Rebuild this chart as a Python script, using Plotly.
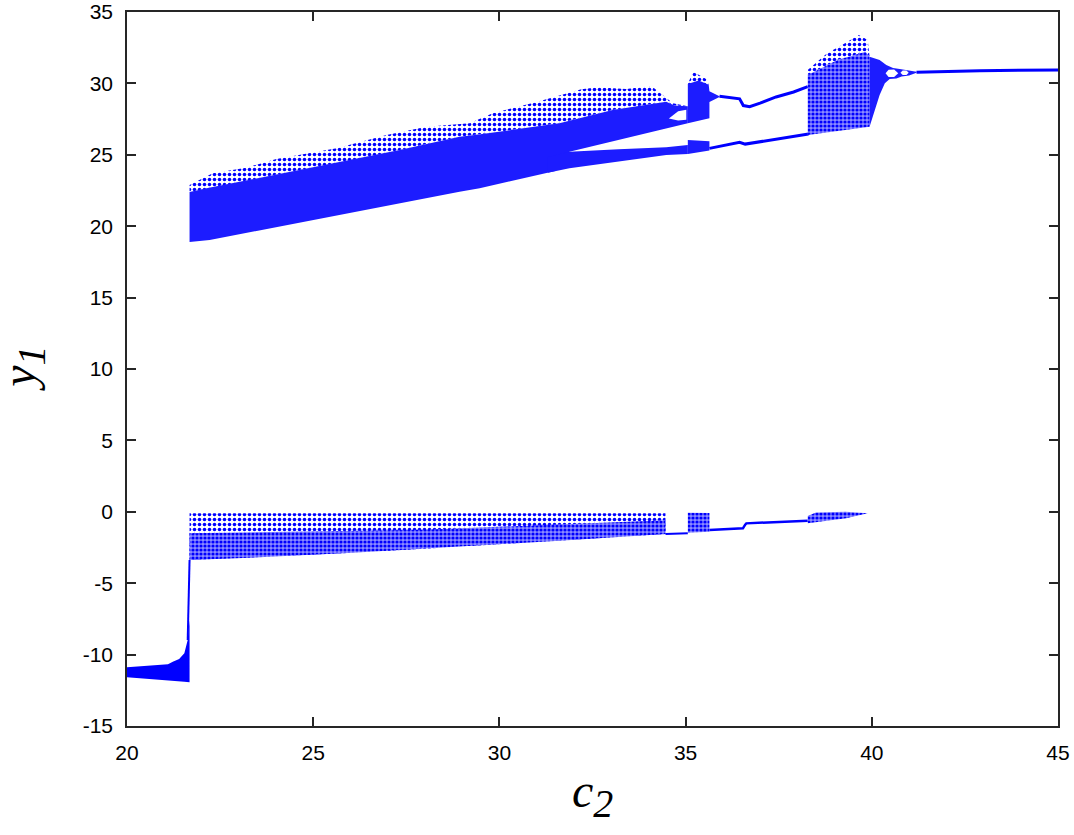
import plotly.graph_objects as go

# ---------------- data (c2 , y1) ----------------
# Upper attractor: main chaotic band
up_sparse_c = [21.68, 22.30, 23.20, 24.01, 25.63, 26.97, 28.04, 29.20, 29.82, 31.00, 32.20, 32.64, 33.40, 34.08, 34.66, 35.06]
up_sparse_y = [22.89, 23.70, 24.10, 24.71, 25.46, 26.39, 26.97, 27.21, 27.91, 28.70, 29.59, 29.73, 29.60, 29.82, 28.61, 28.40]
up_dense_c = [21.68, 22.20, 23.40, 24.63, 26.00, 27.32, 28.93, 29.39, 30.50, 31.61, 33.04, 34.48, 34.70, 35.06]
up_dense_y = [22.39, 22.70, 23.30, 23.94, 24.60, 25.34, 26.27, 26.40, 26.80, 27.21, 28.14, 28.72, 28.45, 28.40]
up_bottom_c = [21.68, 22.22, 24.00, 25.71, 27.30, 28.93, 29.47, 30.50, 31.50, 31.88, 33.50, 35.06]
up_bottom_y = [18.89, 19.03, 19.90, 20.78, 21.60, 22.42, 22.65, 23.25, 23.87, 25.22, 26.25, 27.21]
# small gap inside the upper sub-band near c2 = 35
gap_c = [34.55, 34.80, 35.02, 35.02, 34.80]
gap_y = [27.55, 28.05, 28.15, 27.45, 27.40]
# lower sub-band after the split
sub_c = [31.30, 31.88, 33.20, 34.48, 35.06]
sub_top = [24.85, 25.22, 25.38, 25.52, 25.69]
sub_bot = [23.75, 24.05, 24.55, 24.99, 25.06]
# chaotic window near c2 = 35.3
win_up_c_top = [35.06, 35.35, 35.62, 35.64, 35.91]
win_up_y_top = [29.95, 30.20, 29.90, 29.45, 29.10]
win_up_c_bot = [35.06, 35.64, 35.64, 35.91]
win_up_y_bot = [27.21, 27.56, 28.70, 29.05]
win_sparse_c = [35.06, 35.20, 35.35, 35.55, 35.62]
win_sparse_y = [29.95, 30.80, 30.60, 30.30, 29.90]
win_lo_c = [35.06, 35.64]
win_lo_top = [26.04, 25.95]
win_lo_bot = [25.06, 25.30]
# period-2 branches
p2_up_c = [35.91, 36.45, 36.55, 36.72, 37.00, 37.43, 37.90, 38.28]
p2_up_y = [29.10, 28.92, 28.45, 28.37, 28.62, 29.05, 29.40, 29.77]
p2_lo_c = [35.64, 36.45, 36.60, 36.72, 37.52, 38.30]
p2_lo_y = [25.45, 25.88, 25.75, 25.80, 26.16, 26.45]
# chaotic region 38.3 - 39.9
ch2_sparse_c = [38.28, 38.80, 39.20, 39.65, 39.89, 39.94]
ch2_sparse_y = [30.94, 32.11, 32.69, 33.39, 33.04, 31.87]
ch2_dense_c = [38.28, 39.08, 39.83, 39.94]
ch2_dense_y = [30.59, 31.64, 32.22, 31.87]
ch2_bot_c = [38.28, 39.94]
ch2_bot_y = [26.39, 26.97]
# converging band 39.9 - 41.2
conv_top_c = [39.94, 40.21, 40.39, 40.57, 40.75, 41.20]
conv_top_y = [31.87, 31.64, 31.29, 31.08, 31.00, 30.82]
conv_bot_c = [39.94, 40.03, 40.12, 40.21, 40.35, 40.48, 40.66, 40.80, 41.00, 41.20]
conv_bot_y = [26.97, 27.67, 28.49, 29.19, 30.01, 30.30, 30.35, 30.48, 30.55, 30.75]
bub1_c = [40.37, 40.45, 40.60, 40.71, 40.60, 40.45]
bub1_y = [30.71, 30.95, 30.97, 30.71, 30.45, 30.45]
bub2_c = [40.77, 40.83, 40.93, 40.99, 40.93, 40.83]
bub2_y = [30.74, 30.90, 30.90, 30.74, 30.58, 30.58]
fixed_c = [41.20, 42.90, 45.00]
fixed_y = [30.78, 30.89, 30.94]

# Lower attractor
left_c_top = [20.00, 20.69, 21.10, 21.23, 21.40, 21.54, 21.63, 21.68]
left_y_top = [-10.89, -10.78, -10.68, -10.50, -10.30, -9.91, -8.98, -7.60]
left_c_bot = [20.00, 20.69, 21.23, 21.54, 21.68]
left_y_bot = [-11.59, -11.71, -11.83, -11.90, -11.94]
jump_c = [21.63, 21.65, 21.67, 21.68]
jump_y = [-8.98, -7.00, -5.48, -3.38]
lo_top_c = [21.68, 34.46]
lo_top_y = [-0.10, -0.10]
lo_core_c = [21.68, 28.00, 34.46]
lo_core_y = [-1.50, -1.25, -0.60]
lo_bot_c = [21.68, 22.93, 26.06, 28.93, 31.61, 34.46]
lo_bot_y = [-3.38, -3.26, -2.86, -2.44, -2.02, -1.55]
lo_line1_c = [34.46, 35.06]
lo_line1_y = [-1.55, -1.51]
lo_win_c = [35.06, 35.64]
lo_win_top = [-0.06, -0.08]
lo_win_bot = [-1.46, -1.40]
lo_line2_c = [35.64, 36.54, 36.60, 36.63, 38.28]
lo_line2_y = [-1.27, -1.16, -0.90, -0.81, -0.62]
lo_wedge_c_top = [38.28, 38.50, 39.30, 39.89]
lo_wedge_y_top = [-0.30, -0.05, 0.00, -0.08]
lo_wedge_c_bot = [38.28, 39.31, 39.89]
lo_wedge_y_bot = [-0.80, -0.46, -0.10]

x_ticks = [20, 25, 30, 35, 40, 45]
y_ticks = [-15, -10, -5, 0, 5, 10, 15, 20, 25, 30, 35]

BLUE = "#0000ff"
CORE = "#1c1cff"
MID = "#4848ff"
HALO = "#b4b4ff"

fig = go.Figure()


def poly(ct, yt, cb, yb, color, pattern=None):
    xs = list(ct) + list(cb)[::-1]
    ys = list(yt) + list(yb)[::-1]
    xs.append(xs[0])
    ys.append(ys[0])
    kw = {}
    if pattern:
        kw["fillpattern"] = pattern
    fig.add_trace(go.Scatter(x=xs, y=ys, mode="lines", fill="toself",
                             fillcolor=color, line=dict(width=0, color=color),
                             hoverinfo="skip", showlegend=False, **kw))


def closed(cx, cy, color):
    fig.add_trace(go.Scatter(x=list(cx) + [cx[0]], y=list(cy) + [cy[0]], mode="lines",
                             fill="toself", fillcolor=color, line=dict(width=0, color=color),
                             hoverinfo="skip", showlegend=False))


def line(cx, cy, w):
    fig.add_trace(go.Scatter(x=cx, y=cy, mode="lines", line=dict(color=BLUE, width=w),
                             hoverinfo="skip", showlegend=False))


dots = dict(shape=".", fgcolor=BLUE, bgcolor="white", size=5, solidity=0.4, fillmode="replace")
dots_dense = dict(shape=".", fgcolor=BLUE, bgcolor="#8c8cff", size=4, solidity=0.5, fillmode="replace")

# upper attractor
poly(up_sparse_c, up_sparse_y, up_dense_c, up_dense_y, HALO, dots)
poly(up_dense_c, up_dense_y, up_bottom_c, up_bottom_y, CORE)
poly(sub_c, sub_top, sub_c, sub_bot, CORE)
closed(gap_c, gap_y, "white")
poly(win_sparse_c, win_sparse_y, win_sparse_c[:1] + win_sparse_c[-1:], win_sparse_y[:1] + win_sparse_y[-1:], HALO, dots)
poly(win_up_c_top, win_up_y_top, win_up_c_bot, win_up_y_bot, CORE)
poly(win_lo_c, win_lo_top, win_lo_c, win_lo_bot, CORE)
line(p2_up_c, p2_up_y, 3)
line(p2_lo_c, p2_lo_y, 3)
poly(ch2_sparse_c, ch2_sparse_y, ch2_dense_c, ch2_dense_y, HALO, dots)
poly(ch2_dense_c, ch2_dense_y, ch2_bot_c, ch2_bot_y, MID, dots_dense)
poly(conv_top_c, conv_top_y, conv_bot_c, conv_bot_y, CORE)
closed(bub1_c, bub1_y, "white")
closed(bub2_c, bub2_y, "white")
line(fixed_c, fixed_y, 3)

# lower attractor
poly(left_c_top, left_y_top, left_c_bot, left_y_bot, BLUE)
line(jump_c, jump_y, 2)
poly(lo_top_c, lo_top_y, lo_bot_c, lo_bot_y, HALO, dots)
poly(lo_core_c, lo_core_y, lo_bot_c, lo_bot_y, MID, dots_dense)
line(lo_line1_c, lo_line1_y, 2)
poly(lo_win_c, lo_win_top, lo_win_c, lo_win_bot, MID, dots_dense)
line(lo_line2_c, lo_line2_y, 2.5)
poly(lo_wedge_c_top, lo_wedge_y_top, lo_wedge_c_bot, lo_wedge_y_bot, MID, dots_dense)

AX = "#262626"
TICKFONT = dict(family="Liberation Sans", size=21, color="black")
fig.update_xaxes(range=[20, 45], tickvals=x_ticks, ticktext=[str(v) for v in x_ticks],
                 showline=True, mirror="ticks", linecolor=AX, linewidth=1.5,
                 ticks="inside", ticklen=9, tickwidth=1.5, tickcolor=AX,
                 showgrid=False, zeroline=False, ticklabelstandoff=7,
                 ticklabeloverflow="allow", automargin=False, tickfont=TICKFONT)
fig.update_yaxes(range=[-15, 35], tickvals=y_ticks, ticktext=[str(v) for v in y_ticks],
                 showline=True, mirror="ticks", linecolor=AX, linewidth=1.5,
                 ticks="inside", ticklen=9, tickwidth=1.5, tickcolor=AX,
                 showgrid=False, zeroline=False, ticklabelstandoff=8,
                 ticklabeloverflow="allow", automargin=False, tickfont=TICKFONT)

fig.update_layout(
    width=1074, height=835,
    margin=dict(l=127, r=16, t=12, b=109, autoexpand=False),
    font=dict(family="Liberation Sans", size=21, color="black"),
    plot_bgcolor="white", paper_bgcolor="white",
    annotations=[
        dict(text="<i>c</i><sub><span style='font-size:40px'><i>2</i></span></sub>",
             xref="paper", yref="paper",
             x=0.50, y=-0.05, xanchor="center", yanchor="top", showarrow=False,
             font=dict(family="Liberation Serif", size=48, color="black")),
        dict(text="<i>y</i><sub><span style='font-size:40px'><i>1</i></span></sub>",
             xref="paper", yref="paper",
             x=-0.112, y=0.50, xanchor="center", yanchor="middle", showarrow=False,
             textangle=-90,
             font=dict(family="Liberation Serif", size=48, color="black")),
    ],
)

fig.write_html("out.html", config={"displayModeBar": False},
               post_script="document.body.style.margin='0';")
